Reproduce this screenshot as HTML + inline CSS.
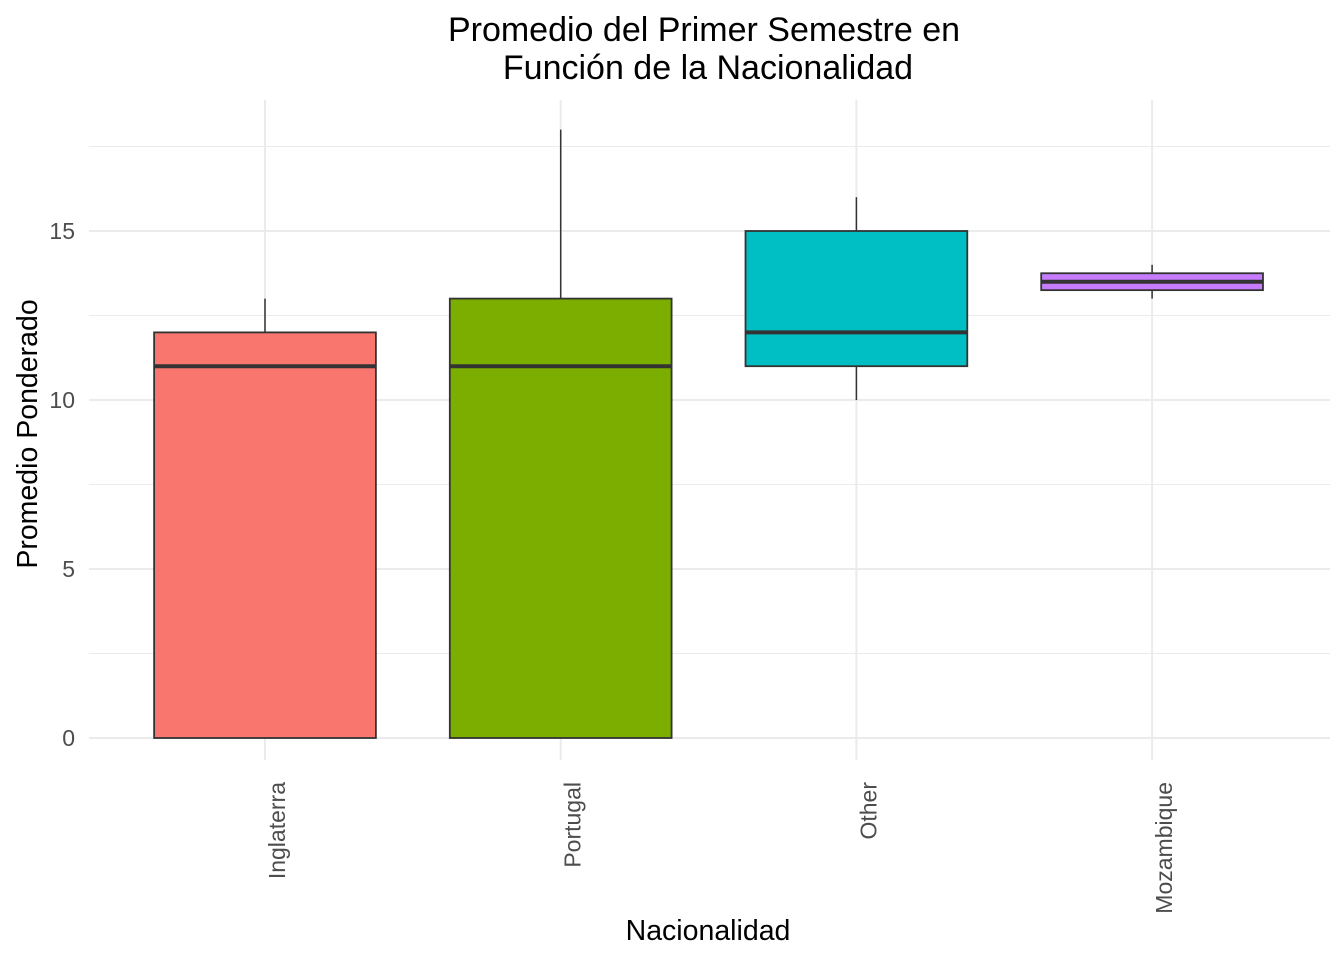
<!DOCTYPE html>
<html><head><meta charset="utf-8"><style>
body{margin:0;background:#fff;}
svg{display:block;font-family:"Liberation Sans",Arial,sans-serif;}
</style></head><body>
<svg id="chart" width="1344" height="960">
<g id="grid"></g>
<g id="boxes"></g>
<g id="axes"></g>
<text x="704" y="41" text-anchor="middle" font-size="34" fill="#000">Promedio del Primer Semestre en</text>
<text x="708" y="79" text-anchor="middle" font-size="34" fill="#000">Función de la Nacionalidad</text>
<text x="708" y="940" text-anchor="middle" font-size="28.5" fill="#000">Nacionalidad</text>
<text transform="translate(37,434) rotate(-90)" text-anchor="middle" font-size="28.5" fill="#000">Promedio Ponderado</text>
</svg>
<script>
const categories=["Inglaterra","Portugal","Other","Mozambique"];
const mins=[0,0,10,13];
const q1s=[0,0,11,13.25];
const medians=[11,11,12,13.5];
const q3s=[12,13,15,13.75];
const maxs=[13,18,16,14];
const colors=["#F8766D","#7CAE00","#00BFC4","#C77CFF"];
const yTicks=[0,5,10,15];
const NS="http://www.w3.org/2000/svg";
const y=v=>738-v*33.8;
const step=295.7;
const x=i=>265+i*step;
const bw=step*0.75;
function mk(tag,attrs,parent){const e=document.createElementNS(NS,tag);for(const k in attrs)e.setAttribute(k,attrs[k]);parent.appendChild(e);return e;}
const grid=document.getElementById('grid'),boxes=document.getElementById('boxes'),axes=document.getElementById('axes');
for(let v=2.5;v<=17.5;v+=5){const l=mk('line',{x1:89,x2:1330,y1:y(v),y2:y(v),stroke:'#ebebeb','stroke-width':1},grid);

}
yTicks.forEach(v=>{const l=mk('line',{x1:89,x2:1330,y1:y(v),y2:y(v),stroke:'#ebebeb','stroke-width':2},grid);


const t=mk('text',{x:75,y:y(v)+8,'text-anchor':'end','font-size':23,fill:'#4d4d4d'},axes);t.textContent=v;

});
categories.forEach((c,i)=>{const l=mk('line',{x1:x(i),x2:x(i),y1:100,y2:760,stroke:'#ebebeb','stroke-width':2},grid);


const t=mk('text',{transform:`translate(${x(i)+20},782) rotate(-90)`,'text-anchor':'end','font-size':23,fill:'#4d4d4d'},axes);t.textContent=c;


const g=mk('g',{},boxes);


mk('line',{x1:x(i),x2:x(i),y1:y(maxs[i]),y2:y(q3s[i]),stroke:'#333','stroke-width':1.5},g);
mk('line',{x1:x(i),x2:x(i),y1:y(q1s[i]),y2:y(mins[i]),stroke:'#333','stroke-width':1.5},g);
mk('rect',{x:x(i)-bw/2,y:y(q3s[i]),width:bw,height:y(q1s[i])-y(q3s[i]),fill:colors[i],stroke:'#333','stroke-width':1.8},g);
mk('line',{x1:x(i)-bw/2,x2:x(i)+bw/2,y1:y(medians[i]),y2:y(medians[i]),stroke:'#333','stroke-width':4},g);
});
</script>
</body></html>
